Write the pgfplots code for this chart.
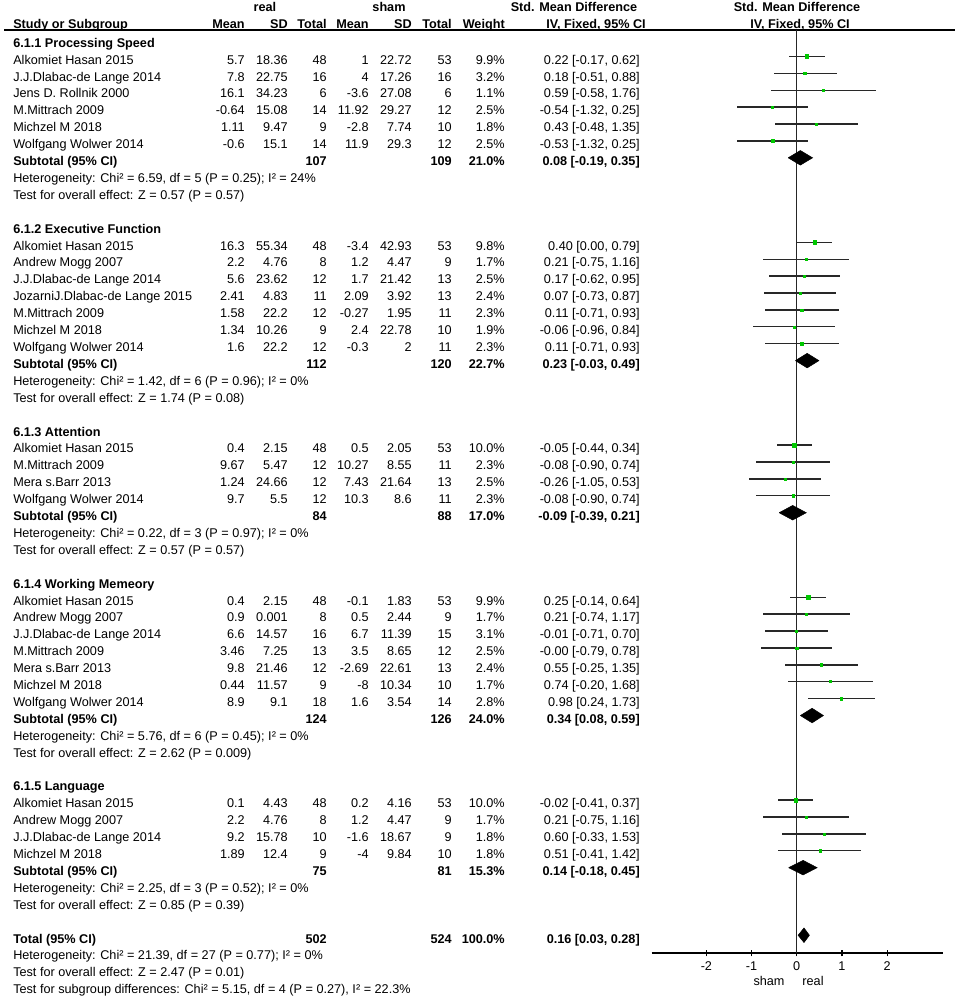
\documentclass[border=0pt]{standalone}
\usepackage{fontspec}
\setmainfont{Liberation Sans}
\usepackage{pgfplots}
\usepackage{pgfplotstable}
\pgfplotsset{compat=1.18}
\definecolor{sqgreen}{RGB}{0,200,0}
\definecolor{cil}{RGB}{40,40,40}

\pgfplotstableread{
y est lo hi w
-1 0.22 -0.17 0.62 9.9
-2 0.18 -0.51 0.88 3.2
-3 0.59 -0.58 1.76 1.1
-4 -0.54 -1.32 0.25 2.5
-5 0.43 -0.48 1.35 1.8
-6 -0.53 -1.32 0.25 2.5
-12 0.40 0.00 0.79 9.8
-13 0.21 -0.75 1.16 1.7
-14 0.17 -0.62 0.95 2.5
-15 0.07 -0.73 0.87 2.4
-16 0.11 -0.71 0.93 2.3
-17 -0.06 -0.96 0.84 1.9
-18 0.11 -0.71 0.93 2.3
-24 -0.05 -0.44 0.34 10.0
-25 -0.08 -0.90 0.74 2.3
-26 -0.26 -1.05 0.53 2.5
-27 -0.08 -0.90 0.74 2.3
-33 0.25 -0.14 0.64 9.9
-34 0.21 -0.74 1.17 1.7
-35 -0.01 -0.71 0.70 3.1
-36 -0.00 -0.79 0.78 2.5
-37 0.55 -0.25 1.35 2.4
-38 0.74 -0.20 1.68 1.7
-39 0.98 0.24 1.73 2.8
-45 -0.02 -0.41 0.37 10.0
-46 0.21 -0.75 1.16 1.7
-47 0.60 -0.33 1.53 1.8
-48 0.51 -0.41 1.42 1.8
}\studies

\newcommand\myL[2]{\node[anchor=base west] at (13,{47.3+16.9*(#1)}) {#2};}
\newcommand\myR[3]{\node[anchor=base east] at (#1,{47.3+16.9*(#2)}) {#3};}
\newcommand\st[9]{\myL{#1}{#2}\myR{245}{#1}{#3}\myR{288}{#1}{#4}\myR{327}{#1}{#5}\myR{369}{#1}{#6}\myR{412}{#1}{#7}\myR{452}{#1}{#8}\myR{505}{#1}{#9}}
\newcommand\ci[2]{\myR{640}{#1}{#2}}
\newcommand\sub[5]{\myL{#1}{\bfseries #2}\myR{327}{#1}{\bfseries #3}\myR{452}{#1}{\bfseries #4}\myR{505}{#1}{\bfseries #5}}

\begin{document}
\begin{tikzpicture}[every node/.style={inner sep=0pt, font=\fontsize{9.5}{11}\selectfont}]
\begin{scope}[x=0.75pt,y=-0.75pt]
\path[use as bounding box] (0,0) rectangle (957,998);
% header
\node[anchor=base] at (265,11.5) {\bfseries real};
\node[anchor=base] at (389,11.5) {\bfseries sham};
\node[anchor=base] at (574,11.5) {\bfseries Std. Mean Difference};
\node[anchor=base] at (797,11.5) {\bfseries Std. Mean Difference};
\node[anchor=base west] at (13,28.3) {\bfseries Study or Subgroup};
\node[anchor=base east] at (245,28.3) {\bfseries Mean};
\node[anchor=base east] at (288,28.3) {\bfseries SD};
\node[anchor=base east] at (327,28.3) {\bfseries Total};
\node[anchor=base east] at (369,28.3) {\bfseries Mean};
\node[anchor=base east] at (412,28.3) {\bfseries SD};
\node[anchor=base east] at (452,28.3) {\bfseries Total};
\node[anchor=base east] at (505,28.3) {\bfseries Weight};
\node[anchor=base] at (596,28.3) {\bfseries IV, Fixed, 95\% CI};
\node[anchor=base] at (800,28.3) {\bfseries IV, Fixed, 95\% CI};
\draw[line width=0.8pt] (4,30) -- (955,30);
% group 1
\myL{0}{\bfseries 6.1.1 Processing Speed}
\st{1}{Alkomiet Hasan 2015}{5.7}{18.36}{48}{1}{22.72}{53}{9.9\%}\ci{1}{0.22 [-0.17, 0.62]}
\st{2}{J.J.Dlabac-de Lange 2014}{7.8}{22.75}{16}{4}{17.26}{16}{3.2\%}\ci{2}{0.18 [-0.51, 0.88]}
\st{3}{Jens D. Rollnik 2000}{16.1}{34.23}{6}{-3.6}{27.08}{6}{1.1\%}\ci{3}{0.59 [-0.58, 1.76]}
\st{4}{M.Mittrach 2009}{-0.64}{15.08}{14}{11.92}{29.27}{12}{2.5\%}\ci{4}{-0.54 [-1.32, 0.25]}
\st{5}{Michzel M 2018}{1.11}{9.47}{9}{-2.8}{7.74}{10}{1.8\%}\ci{5}{0.43 [-0.48, 1.35]}
\st{6}{Wolfgang Wolwer 2014}{-0.6}{15.1}{14}{11.9}{29.3}{12}{2.5\%}\ci{6}{-0.53 [-1.32, 0.25]}
\sub{7}{Subtotal (95\% CI)}{107}{109}{21.0\%}\ci{7}{\bfseries 0.08 [-0.19, 0.35]}
\myL{8}{Heterogeneity: Chi² = 6.59, df = 5 (P = 0.25); I² = 24\%}
\myL{9}{Test for overall effect: Z = 0.57 (P = 0.57)}
% group 2
\myL{11}{\bfseries 6.1.2 Executive Function}
\st{12}{Alkomiet Hasan 2015}{16.3}{55.34}{48}{-3.4}{42.93}{53}{9.8\%}\ci{12}{0.40 [0.00, 0.79]}
\st{13}{Andrew Mogg 2007}{2.2}{4.76}{8}{1.2}{4.47}{9}{1.7\%}\ci{13}{0.21 [-0.75, 1.16]}
\st{14}{J.J.Dlabac-de Lange 2014}{5.6}{23.62}{12}{1.7}{21.42}{13}{2.5\%}\ci{14}{0.17 [-0.62, 0.95]}
\st{15}{JozarniJ.Dlabac-de Lange 2015}{2.41}{4.83}{11}{2.09}{3.92}{13}{2.4\%}\ci{15}{0.07 [-0.73, 0.87]}
\st{16}{M.Mittrach 2009}{1.58}{22.2}{12}{-0.27}{1.95}{11}{2.3\%}\ci{16}{0.11 [-0.71, 0.93]}
\st{17}{Michzel M 2018}{1.34}{10.26}{9}{2.4}{22.78}{10}{1.9\%}\ci{17}{-0.06 [-0.96, 0.84]}
\st{18}{Wolfgang Wolwer 2014}{1.6}{22.2}{12}{-0.3}{2}{11}{2.3\%}\ci{18}{0.11 [-0.71, 0.93]}
\sub{19}{Subtotal (95\% CI)}{112}{120}{22.7\%}\ci{19}{\bfseries 0.23 [-0.03, 0.49]}
\myL{20}{Heterogeneity: Chi² = 1.42, df = 6 (P = 0.96); I² = 0\%}
\myL{21}{Test for overall effect: Z = 1.74 (P = 0.08)}
% group 3
\myL{23}{\bfseries 6.1.3 Attention}
\st{24}{Alkomiet Hasan 2015}{0.4}{2.15}{48}{0.5}{2.05}{53}{10.0\%}\ci{24}{-0.05 [-0.44, 0.34]}
\st{25}{M.Mittrach 2009}{9.67}{5.47}{12}{10.27}{8.55}{11}{2.3\%}\ci{25}{-0.08 [-0.90, 0.74]}
\st{26}{Mera s.Barr 2013}{1.24}{24.66}{12}{7.43}{21.64}{13}{2.5\%}\ci{26}{-0.26 [-1.05, 0.53]}
\st{27}{Wolfgang Wolwer 2014}{9.7}{5.5}{12}{10.3}{8.6}{11}{2.3\%}\ci{27}{-0.08 [-0.90, 0.74]}
\sub{28}{Subtotal (95\% CI)}{84}{88}{17.0\%}\ci{28}{\bfseries -0.09 [-0.39, 0.21]}
\myL{29}{Heterogeneity: Chi² = 0.22, df = 3 (P = 0.97); I² = 0\%}
\myL{30}{Test for overall effect: Z = 0.57 (P = 0.57)}
% group 4
\myL{32}{\bfseries 6.1.4 Working Memeory}
\st{33}{Alkomiet Hasan 2015}{0.4}{2.15}{48}{-0.1}{1.83}{53}{9.9\%}\ci{33}{0.25 [-0.14, 0.64]}
\st{34}{Andrew Mogg 2007}{0.9}{0.001}{8}{0.5}{2.44}{9}{1.7\%}\ci{34}{0.21 [-0.74, 1.17]}
\st{35}{J.J.Dlabac-de Lange 2014}{6.6}{14.57}{16}{6.7}{11.39}{15}{3.1\%}\ci{35}{-0.01 [-0.71, 0.70]}
\st{36}{M.Mittrach 2009}{3.46}{7.25}{13}{3.5}{8.65}{12}{2.5\%}\ci{36}{-0.00 [-0.79, 0.78]}
\st{37}{Mera s.Barr 2013}{9.8}{21.46}{12}{-2.69}{22.61}{13}{2.4\%}\ci{37}{0.55 [-0.25, 1.35]}
\st{38}{Michzel M 2018}{0.44}{11.57}{9}{-8}{10.34}{10}{1.7\%}\ci{38}{0.74 [-0.20, 1.68]}
\st{39}{Wolfgang Wolwer 2014}{8.9}{9.1}{18}{1.6}{3.54}{14}{2.8\%}\ci{39}{0.98 [0.24, 1.73]}
\sub{40}{Subtotal (95\% CI)}{124}{126}{24.0\%}\ci{40}{\bfseries 0.34 [0.08, 0.59]}
\myL{41}{Heterogeneity: Chi² = 5.76, df = 6 (P = 0.45); I² = 0\%}
\myL{42}{Test for overall effect: Z = 2.62 (P = 0.009)}
% group 5
\myL{44}{\bfseries 6.1.5 Language}
\st{45}{Alkomiet Hasan 2015}{0.1}{4.43}{48}{0.2}{4.16}{53}{10.0\%}\ci{45}{-0.02 [-0.41, 0.37]}
\st{46}{Andrew Mogg 2007}{2.2}{4.76}{8}{1.2}{4.47}{9}{1.7\%}\ci{46}{0.21 [-0.75, 1.16]}
\st{47}{J.J.Dlabac-de Lange 2014}{9.2}{15.78}{10}{-1.6}{18.67}{9}{1.8\%}\ci{47}{0.60 [-0.33, 1.53]}
\st{48}{Michzel M 2018}{1.89}{12.4}{9}{-4}{9.84}{10}{1.8\%}\ci{48}{0.51 [-0.41, 1.42]}
\sub{49}{Subtotal (95\% CI)}{75}{81}{15.3\%}\ci{49}{\bfseries 0.14 [-0.18, 0.45]}
\myL{50}{Heterogeneity: Chi² = 2.25, df = 3 (P = 0.52); I² = 0\%}
\myL{51}{Test for overall effect: Z = 0.85 (P = 0.39)}
% total
\sub{53}{Total (95\% CI)}{502}{524}{100.0\%}\ci{53}{\bfseries 0.16 [0.03, 0.28]}
\myL{54}{Heterogeneity: Chi² = 21.39, df = 27 (P = 0.77); I² = 0\%}
\myL{55}{Test for overall effect: Z = 2.47 (P = 0.01)}
\myL{56}{Test for subgroup differences: Chi² = 5.15, df = 4 (P = 0.27), I² = 22.3\%}
% axis side labels
\node[anchor=base] at (769,985) {sham};
\node[anchor=base] at (813,985) {real};
\end{scope}

\begin{axis}[
  at={(488.775pt,-714.75pt)}, anchor=south west,
  scale only axis, width=218.25pt, height=692.25pt,
  xmin=-3.21, xmax=3.23, ymin=-54.05, ymax=0.562,
  axis x line*=bottom, axis y line=none,
  xtick={-2,-1,0,1,2}, ytick=\empty,
  xtick align=center, major tick length=5pt,
  axis line style={black, line width=0.9pt},
  tick style={black, line width=0.9pt},
  ticklabel style={font=\fontsize{9.5}{11}\selectfont},
  xticklabel style={yshift=-4pt},
  /pgf/number format/assume math mode=true,
  clip=false,
]
% line of no effect
\addplot[black!85, line width=1pt, mark=none] coordinates {(0,0.562) (0,-54.05)};
% confidence intervals
\addplot[draw=none, mark=none, forget plot,
  error bars/.cd, x dir=both, x explicit, error mark=none,
  error bar style={draw=cil, solid, line width=1pt}]
  table[x=est, y=y, x error plus expr=\thisrow{hi}-\thisrow{est}, x error minus expr=\thisrow{est}-\thisrow{lo}] {\studies};
% weighted squares
\addplot[scatter, only marks, mark=square*,
  mark options={draw=sqgreen, fill=sqgreen},
  scatter/use mapped color={draw=sqgreen, fill=sqgreen},
  visualization depends on={\thisrow{w} \as \wt},
  scatter/@pre marker code/.append style={/tikz/mark size={0.3+0.35*sqrt(\wt)}}]
  table[x=est, y=y] {\studies};
% subtotal diamonds
\addplot[fill=black, draw=black, mark=none] coordinates {(-0.19,-7) (0.08,-6.57) (0.35,-7) (0.08,-7.43) (-0.19,-7)};
\addplot[fill=black, draw=black, mark=none] coordinates {(-0.03,-19) (0.23,-18.57) (0.49,-19) (0.23,-19.43) (-0.03,-19)};
\addplot[fill=black, draw=black, mark=none] coordinates {(-0.39,-28) (-0.09,-27.57) (0.21,-28) (-0.09,-28.43) (-0.39,-28)};
\addplot[fill=black, draw=black, mark=none] coordinates {(0.08,-40) (0.34,-39.57) (0.59,-40) (0.34,-40.43) (0.08,-40)};
\addplot[fill=black, draw=black, mark=none] coordinates {(-0.18,-49) (0.14,-48.57) (0.45,-49) (0.14,-49.43) (-0.18,-49)};
\addplot[fill=black, draw=black, mark=none] coordinates {(0.03,-53) (0.16,-52.57) (0.28,-53) (0.16,-53.43) (0.03,-53)};
\end{axis}
\end{tikzpicture}
\end{document}
